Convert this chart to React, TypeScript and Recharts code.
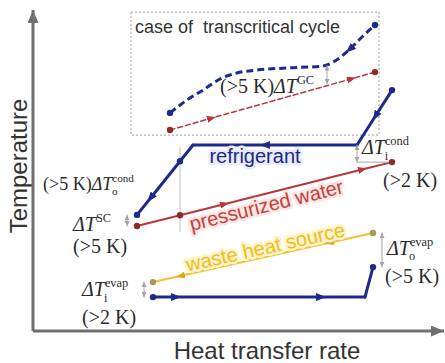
import React from 'react';
import {
  ComposedChart,
  Line,
  Scatter,
  XAxis,
  YAxis,
  ReferenceArea,
  ReferenceLine,
  ReferenceDot,
  Customized,
} from 'recharts';

// q = heat transfer rate, t = temperature (arbitrary units)

// transcritical case (gas cooler)
const gcRefrigerant = [
  { q: 34.25, t: 72.7 }, { q: 38.5, t: 77 }, { q: 42.5, t: 80.3 }, { q: 46.75, t: 84 },
  { q: 51, t: 86 }, { q: 56, t: 87 }, { q: 64, t: 87.7 }, { q: 72.25, t: 88.3 },
  { q: 75.5, t: 90 }, { q: 79, t: 93.7 }, { q: 82.25, t: 98 }, { q: 85.5, t: 102 },
];
const gcWater = [{ q: 34.25, t: 67 }, { q: 44.75, t: 71 }, { q: 79.75, t: 84.1 }, { q: 85.5, t: 86.3 }];

// subcritical refrigerant, in flow order (inner points carry the arrows)
const rHot = [{ q: 89.75, t: 80.3 }, { q: 85.5, t: 71.4 }, { q: 81, t: 62 }];
const rCond = [{ q: 81, t: 62 }, { q: 57.75, t: 62 }, { q: 40, t: 62 }];
const rSub = [{ q: 40, t: 62 }, { q: 29.25, t: 44.1 }, { q: 26, t: 38.7 }];
const rEvap = [{ q: 30, t: 11.3 }, { q: 36, t: 11.3 }, { q: 72.25, t: 11.3 }, { q: 83, t: 11.3 }];
const rRise = [{ q: 83, t: 11.3 }, { q: 85, t: 21.3 }];

const water = [{ q: 26, t: 35 }, { q: 48, t: 42.35 }, { q: 82.5, t: 53.9 }, { q: 89.75, t: 56.3 }];
const wasteHeat = [{ q: 85, t: 32.7 }, { q: 74, t: 29.4 }, { q: 36.75, t: 18.3 }, { q: 30, t: 16.3 }];

// where the sub-cooling guide crosses the lines
const navyCross = [{ q: 36.75, t: 56.6 }];
const redCross = [{ q: 36.75, t: 38.6 }];

// temperature differences
const gapGC = [{ q: 73.5, t: 88.5 }, { q: 73.5, t: 82.3 }];
const gapCondIn = [{ q: 81, t: 62 }, { q: 81, t: 56.3 }];
const gapCondInExt = [{ q: 81, t: 56.3 }, { q: 89.75, t: 56.3 }];
const gapSub = [{ q: 23.5, t: 38.7 }, { q: 23.5, t: 35 }];
const gapEvapIn = [{ q: 27.75, t: 16.3 }, { q: 27.75, t: 11.3 }];
const gapEvapOut = [{ q: 87.25, t: 32.7 }, { q: 87.25, t: 21.3 }];

const last = (a: any[]) => a[a.length - 1];

const navyDots = [
  rHot[0], last(rSub), rEvap[0], last(rRise), gcRefrigerant[0], last(gcRefrigerant), ...navyCross,
];
const redDots = [water[0], last(water), gcWater[0], last(gcWater), ...redCross];
const oliveDots = [wasteHeat[0], last(wasteHeat)];

const NAVY = '#1d2a8a';
const RED = '#b8373a';
const YELLOW = '#f1c232';
const OLIVE = '#a59a55';
const AXIS = '#6f6f6f';
const GUIDE = '#a3a3a3';
const INK = '#2b2b2b';

const SANS = "'Liberation Sans', Arial, sans-serif";
const SERIF = "'Liberation Serif', 'Times New Roman', serif";

function Defs() {
  const head = (id: string, color: string, w: number, h: number, ref: number) => (
    <marker
      id={id}
      markerUnits="userSpaceOnUse"
      markerWidth={w}
      markerHeight={h}
      refX={ref}
      refY={h / 2}
      orient="auto-start-reverse"
    >
      <path d={`M0,0 L${w},${h / 2} L0,${h} Z`} fill={color} />
    </marker>
  );
  return (
    <defs>
      {head('axisHead', AXIS, 13, 11, 13)}
      {head('navyHead', NAVY, 10, 8, 6)}
      {head('redHead', RED, 9, 7, 5)}
      {head('yellowHead', '#d9a81e', 9, 7, 5)}
      {head('gapHead', GUIDE, 5, 5, 5)}
    </defs>
  );
}

function AxisTitles() {
  return (
    <g fontFamily={SANS} fontSize={24} fill="#333">
      <text x={267} y={359} textAnchor="middle">Heat transfer rate</text>
      <text transform="translate(27,166) rotate(-90)" textAnchor="middle">Temperature</text>
    </g>
  );
}

// one text element: ΔT with a superscript and, below it, a subscript
function DeltaT({ x, y, size, prefix, sup, sub }: any) {
  const small = size * 0.62;
  const up = size * 0.45;
  const down = size * 0.28;
  const supWidth = sup ? sup.length * small * 0.49 : 0;
  return (
    <text x={x} y={y} fontSize={size} fontFamily={SERIF} fill={INK}>
      {prefix}
      <tspan fontStyle="italic">ΔT</tspan>
      {sup && <tspan fontSize={small} dy={-up}>{sup}</tspan>}
      {sub && (
        <tspan fontSize={small} dx={-supWidth} dy={up + down}>
          {sub}
        </tspan>
      )}
    </text>
  );
}

const Plain = (text: string) => (p: any) => (
  <text x={p.cx} y={p.cy} fontFamily={SERIF} fontSize={20} fill={INK}>{text}</text>
);

const Slanted = (text: string, color: string, halo: string, angle: number) => (p: any) => (
  <text
    x={p.cx}
    y={p.cy}
    transform={`rotate(${angle}, ${p.cx}, ${p.cy})`}
    textAnchor="middle"
    fontFamily={SANS}
    fontSize={20}
    fill={color}
    stroke={halo}
    strokeWidth={5}
    strokeLinejoin="round"
    paintOrder="stroke"
  >
    {text}
  </text>
);

const dotShape = (color: string) => (p: any) => <circle cx={p.cx} cy={p.cy} r={3.2} fill={color} />;

export default function App() {
  const solid = { dot: false, activeDot: false, isAnimationActive: false, dataKey: 't', strokeLinecap: 'round' as const };
  const gap = { ...solid, stroke: GUIDE, strokeWidth: 1, markerStart: 'url(#gapHead)', markerEnd: 'url(#gapHead)' };

  return (
    <div style={{ position: 'absolute', left: 0, top: 0, width: 445, height: 363, background: '#fff' }}>
      <ComposedChart width={445} height={363} margin={{ top: 10, right: 1, bottom: 0, left: 0 }}>
        <Customized component={<Defs />} />
        <XAxis
          type="number"
          dataKey="q"
          domain={[0, 102.75]}
          height={32}
          tick={false}
          tickLine={false}
          axisLine={{ stroke: AXIS, strokeWidth: 3, markerEnd: 'url(#axisHead)' } as any}
        />
        <YAxis
          type="number"
          dataKey="t"
          domain={[0, 107]}
          width={33}
          tick={false}
          tickLine={false}
          axisLine={{ stroke: AXIS, strokeWidth: 3, markerStart: 'url(#axisHead)' } as any}
        />

        <ReferenceArea x1={24.5} x2={86.5} y1={65.3} y2={106.3} fill="none" stroke="#9c9c9c" strokeWidth={1} strokeDasharray="2 2" />
        <ReferenceLine segment={[{ x: 36.75, y: 61.3 }, { x: 36.75, y: 33 }]} stroke="#bdbdbd" strokeWidth={1} />

        {/* transcritical case */}
        <Line {...solid} data={gcWater} stroke={RED} strokeWidth={1.5} strokeDasharray="5 3" markerMid="url(#redHead)" />
        <Line {...solid} data={gcRefrigerant} type="monotone" stroke={NAVY} strokeWidth={3} strokeDasharray="7 4" strokeLinecap="butt" />
        <Line {...solid} data={gcRefrigerant.slice(8, 11).reverse()} stroke="none" markerMid="url(#navyHead)" />

        {/* heat sink and heat source */}
        <Line {...solid} data={water} stroke={RED} strokeWidth={2} markerMid="url(#redHead)" />
        <Line {...solid} data={wasteHeat} stroke={YELLOW} strokeWidth={2} markerMid="url(#yellowHead)" />

        {/* refrigerant */}
        <Line {...solid} data={rHot} stroke={NAVY} strokeWidth={3} markerMid="url(#navyHead)" />
        <Line {...solid} data={rCond} stroke={NAVY} strokeWidth={3} markerMid="url(#navyHead)" />
        <Line {...solid} data={rSub} stroke={NAVY} strokeWidth={3} markerMid="url(#navyHead)" />
        <Line {...solid} data={rEvap} stroke={NAVY} strokeWidth={3} markerMid="url(#navyHead)" />
        <Line {...solid} data={rRise} stroke={NAVY} strokeWidth={3} />

        {/* temperature differences */}
        <Line {...gap} data={gapGC} />
        <Line {...gap} data={gapCondIn} />
        <Line {...solid} data={gapCondInExt} stroke={GUIDE} strokeWidth={1} />
        <Line {...gap} data={gapSub} />
        <Line {...gap} data={gapEvapIn} />
        <Line {...gap} data={gapEvapOut} />

        <Scatter data={navyDots} isAnimationActive={false} shape={dotShape(NAVY)} />
        <Scatter data={redDots} isAnimationActive={false} shape={dotShape('#8e2a2a')} />
        <Scatter data={oliveDots} isAnimationActive={false} shape={dotShape(OLIVE)} />

        {/* labels */}
        <ReferenceDot
          x={25.5}
          y={99.3}
          r={0}
          shape={(p: any) => (
            <text x={p.cx} y={p.cy} fontFamily={SANS} fontSize={18} fill="#333" xmlSpace="preserve">
              case of  transcritical cycle
            </text>
          )}
        />
        <ReferenceDot x={46.75} y={79.3} r={0} shape={(p: any) => <DeltaT x={p.cx} y={p.cy} size={20} prefix="(>5 K)" sup="GC" />} />
        <ReferenceDot
          x={55.5}
          y={56}
          r={0}
          shape={(p: any) => (
            <text x={p.cx} y={p.cy} textAnchor="middle" fontFamily={SANS} fontSize={20} fill={NAVY}
              stroke="#e8ebf8" strokeWidth={5} strokeLinejoin="round" paintOrder="stroke">
              refrigerant
            </text>
          )}
        />
        <ReferenceDot x={58.75} y={39.7} r={0} shape={Slanted('pressurized water', '#c4403b', '#fbe6e4', -14)} />
        <ReferenceDot x={58.5} y={25.7} r={0} shape={Slanted('waste heat source', '#efbd1f', '#fdf4c9', -12.6)} />

        <ReferenceDot x={2.5} y={47} r={0} shape={(p: any) => <DeltaT x={p.cx} y={p.cy} size={18} prefix="(>5 K)" sup="cond" sub="o" />} />
        <ReferenceDot x={10} y={33.3} r={0} shape={(p: any) => <DeltaT x={p.cx} y={p.cy} size={20} sup="SC" />} />
        <ReferenceDot x={10} y={26} r={0} shape={Plain('(>5 K)')} />
        <ReferenceDot x={12.25} y={11.6} r={0} shape={(p: any) => <DeltaT x={p.cx} y={p.cy} size={20} sup="evap" sub="i" />} />
        <ReferenceDot x={12.25} y={2.2} r={0} shape={Plain('(>2 K)')} />
        <ReferenceDot x={82.25} y={58.9} r={0} shape={(p: any) => <DeltaT x={p.cx} y={p.cy} size={20} sup="cond" sub="i" />} />
        <ReferenceDot x={87.5} y={48.1} r={0} shape={Plain('(>2 K)')} />
        <ReferenceDot x={88.5} y={25.5} r={0} shape={(p: any) => <DeltaT x={p.cx} y={p.cy} size={20} sup="evap" sub="o" />} />
        <ReferenceDot x={88} y={16.1} r={0} shape={Plain('(>5 K)')} />

        <Customized component={<AxisTitles />} />
      </ComposedChart>
    </div>
  );
}
